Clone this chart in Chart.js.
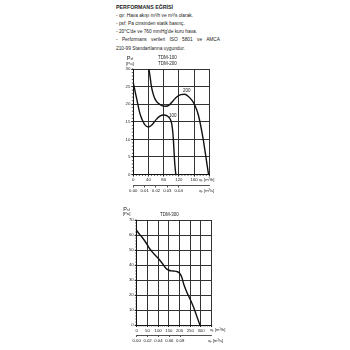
<!DOCTYPE html>
<html>
<head>
<meta charset="utf-8">
<script src="https://cdn.jsdelivr.net/npm/chart.js@4"></script>
<style>
  body { margin: 0; width: 350px; height: 350px; background: #fff; overflow: hidden; position: relative;
         font-family: "Liberation Sans", Arial, sans-serif; color: #222; }
  .head { position: absolute; left: 116px; top: 3.5px; font-weight: bold; font-size: 5.3px; white-space: nowrap; }
  .notes { position: absolute; left: 116px; top: 11.6px; width: 104px; font-size: 4.8px; line-height: 8.3px; }
  .notes div { white-space: nowrap; }
  .notes .just { white-space: normal; text-align: justify; text-align-last: justify; }
  canvas { position: absolute; left: 110px; }
  #small { top: 50px; }
  #big { top: 200px; }
</style>
</head>
<body>
<div class="head">PERFORMANS EĞRİSİ</div>
<div class="notes">
  <div>- qv: Hava akışı m³/h ve m³/s olarak.</div>
  <div>- psf: Pa cinsinden statik basınç.</div>
  <div>- 20°C'de ve 760 mmHg'de kuru hava.</div>
  <div class="just">- Performans verileri ISO 5801 ve AMCA</div>
  <div>210-99 Standartlarına uygundur.</div>
</div>
<canvas id="small" width="130" height="150"></canvas>
<canvas id="big" width="130" height="150"></canvas>
<script>
// TDM-100 / TDM-200 chart
const flowTicksSmall = [0, 40, 80, 120, 160, 200];
const pressureTicksSmall = [0, 5, 10, 15, 20, 25, 30];
const flowM3sTicksSmall = [0, 0.01, 0.02, 0.03, 0.04];

const tdm100Flow = [0, 5, 10, 15, 20, 25, 30, 40, 50, 60, 70, 80, 90, 97, 101, 104, 106, 108, 110, 112];
const tdm100Pressure = [26, 23.5, 21, 18.4, 16.5, 15.2, 14.2, 13.5, 14.2, 15.6, 16.6, 16.9, 16.6, 15.8, 14.5, 12, 9, 5, 2, 0];

const tdm200Flow = [41, 44, 47, 52, 58, 65, 75, 85, 95, 105, 115, 125, 135, 145, 155, 162, 171, 184, 191, 198];
const tdm200Pressure = [30, 28, 25.5, 23, 21.3, 20.3, 19.6, 19.4, 19.8, 21, 22.1, 22.7, 22.8, 22.2, 21, 19.7, 17, 10, 5, 0];

// TDM-300 chart
const flowTicksBig = [0, 50, 100, 150, 200, 250, 300, 350];
const pressureTicksBig = [0, 10, 20, 30, 40, 50, 60, 70];
const flowM3sTicksBig = [0, 0.02, 0.04, 0.06, 0.08];

const tdm300Flow = [0, 10, 25, 45, 60, 80, 100, 120, 135, 150, 170, 190, 200, 210, 220, 235, 250, 265, 280, 295];
const tdm300Pressure = [63, 61, 58.5, 54.5, 51, 47.5, 44.5, 41, 38, 36.5, 36, 35.5, 34.5, 32, 27, 21.5, 17, 12, 6, 0];

const FONT = '"Liberation Sans", Arial, sans-serif';
const INK = '#222';

function points(xs, ys) {
  return xs.map((x, i) => ({ x: x, y: ys[i] }));
}

function curve(label, xs, ys) {
  return {
    label: label,
    data: points(xs, ys),
    borderColor: '#111',
    borderWidth: 1.4,
    pointRadius: 0,
    fill: false,
    cubicInterpolationMode: 'monotone'
  };
}

function fixTicks(values) {
  return scale => { scale.ticks = values.map(v => ({ value: v })); };
}

// axis titles, chart titles, curve names and small minor ticks
const chartNotes = {
  id: 'chartNotes',
  afterDraw(chart, args, o) {
    const ctx = chart.ctx;
    const a = chart.chartArea;
    const xs = chart.scales.x, ys = chart.scales.y, x2 = chart.scales.x2;
    ctx.save();
    ctx.fillStyle = INK;
    ctx.strokeStyle = '#222';
    ctx.lineWidth = 0.7;

    // minor ticks
    ctx.beginPath();
    for (let v = ys.min; v <= ys.max; v += o.minorY) {
      const py = ys.getPixelForValue(v);
      ctx.moveTo(a.left - 1.5, py);
      ctx.lineTo(a.left, py);
    }
    for (let v = xs.min; v <= xs.max; v += o.minorX) {
      const px = xs.getPixelForValue(v);
      ctx.moveTo(px, a.bottom);
      ctx.lineTo(px, a.bottom + 1.5);
    }
    ctx.stroke();

    // Psf [Pa]
    ctx.textBaseline = 'middle';
    ctx.textAlign = 'left';
    ctx.font = '5.6px ' + FONT;
    ctx.fillText('P', a.left + o.pdx, a.top - 10.7);
    const pw = ctx.measureText('P').width;
    ctx.font = '3.4px ' + FONT;
    ctx.fillText('sf', a.left + o.pdx + pw, a.top - 9.6);
    ctx.font = '4.3px ' + FONT;
    ctx.fillText('[Pa]', a.left + o.pdx - 0.6, a.top + o.unitDy);

    // titles
    ctx.textAlign = 'center';
    ctx.font = '4.5px ' + FONT;
    o.titles.forEach((t, i) => {
      ctx.fillText(t, a.left + o.titleDx, a.top + o.titleDy + i * 6.5);
    });

    // curve names
    o.names.forEach(n => {
      ctx.fillText(n.text, xs.getPixelForValue(n.x), ys.getPixelForValue(n.y));
    });

    // flow units
    ctx.textAlign = 'left';
    ctx.font = '4.1px ' + FONT;
    ctx.fillText('qᵥ [m³/h]', a.right + o.unitDx, a.bottom + 5.3);
    ctx.fillText('qᵥ [m³/s]', a.right + o.unit2Dx, x2.top + 5.8);
    ctx.restore();
  }
};

function makeChart(id, cfg) {
  const tickFont = { family: FONT, size: 4.3 };
  return new Chart(document.getElementById(id), {
    type: 'line',
    data: { datasets: cfg.datasets },
    options: {
      responsive: false,
      animation: false,
      layout: { padding: cfg.padding },
      plugins: {
        legend: { display: false },
        tooltip: { enabled: false },
        chartNotes: cfg.notes
      },
      scales: {
        x: {
          type: 'linear',
          min: 0,
          max: cfg.xMax,
          afterBuildTicks: fixTicks(cfg.xTicks),
          afterFit: s => { s.height = cfg.xHeight; },
          grid: { color: '#333', lineWidth: 1, tickLength: 2, tickColor: '#222' },
          border: { color: '#111', width: 1 },
          ticks: {
            font: tickFont, color: INK, padding: 1, maxRotation: 0, autoSkip: false,
            callback: v => (v === cfg.xMax ? '' : String(v))
          }
        },
        x2: {
          type: 'linear',
          position: 'bottom',
          min: 0,
          max: cfg.x2Max,
          afterBuildTicks: fixTicks(cfg.x2Ticks),
          afterFit: s => { s.height = cfg.x2Height; },
          grid: { drawOnChartArea: false, tickLength: 2, tickColor: '#222', lineWidth: 0.8 },
          border: { color: '#222', width: 0.8 },
          ticks: {
            font: tickFont, color: INK, padding: 1, maxRotation: 0, autoSkip: false,
            callback: v => v.toFixed(2)
          }
        },
        y: {
          min: 0,
          max: cfg.yMax,
          afterBuildTicks: fixTicks(cfg.yTicks),
          afterFit: s => { s.width = cfg.yWidth; },
          grid: { color: '#333', lineWidth: 1, tickLength: 2, tickColor: '#222' },
          border: { color: '#111', width: 1 },
          ticks: { font: tickFont, color: INK, padding: 1 }
        }
      }
    },
    plugins: [chartNotes]
  });
}

makeChart('small', {
  datasets: [curve('TDM-100', tdm100Flow, tdm100Pressure), curve('TDM-200', tdm200Flow, tdm200Pressure)],
  padding: { top: 19, right: 30.7, left: 0, bottom: 0 },
  xMax: 200, xTicks: flowTicksSmall, xHeight: 11,
  x2Max: 0.067, x2Ticks: flowM3sTicksSmall, x2Height: 14.5,
  yMax: 30, yTicks: pressureTicksSmall, yWidth: 23.3,
  notes: {
    minorX: 8, minorY: 1, pdx: -6.6, unitDy: -4.7,
    titles: ['TDM-100', 'TDM-200'], titleDx: 34, titleDy: -11.3,
    names: [{ text: '100', x: 103.7, y: 16.8 }, { text: '200', x: 140.5, y: 23.7 }],
    unitDx: -10, unit2Dx: -10
  }
});

makeChart('big', {
  datasets: [curve('TDM-300', tdm300Flow, tdm300Pressure)],
  padding: { top: 20, right: 28.3, left: 0, bottom: 0 },
  xMax: 350, xTicks: flowTicksBig, xHeight: 10,
  x2Max: 0.138, x2Ticks: flowM3sTicksBig, x2Height: 15,
  yMax: 70, yTicks: pressureTicksBig, yWidth: 26.7,
  notes: {
    minorX: 10, minorY: 2, pdx: -13.4, unitDy: -6,
    titles: ['TDM-300'], titleDx: 32.8, titleDy: -5.3,
    names: [],
    unitDx: -1.5, unit2Dx: -3.5
  }
});
</script>
</body>
</html>
